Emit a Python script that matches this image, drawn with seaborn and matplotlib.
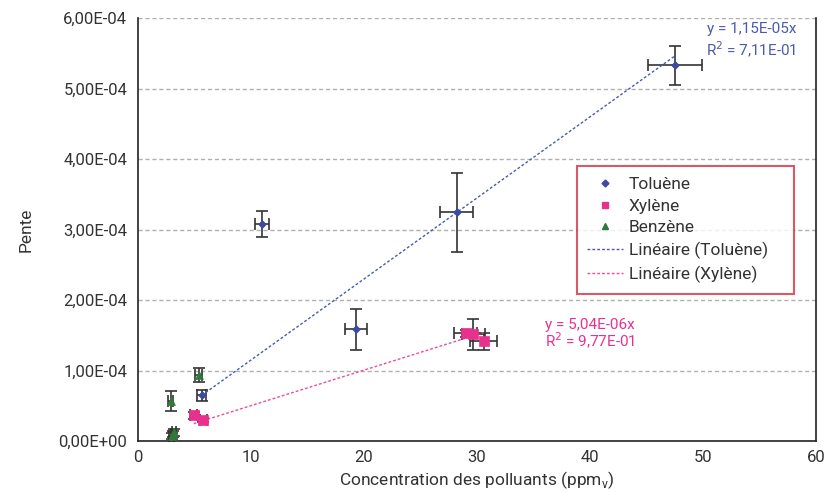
import numpy as np
import pandas as pd
import matplotlib
matplotlib.use("Agg")
import matplotlib.pyplot as plt
from matplotlib.ticker import FuncFormatter, MultipleLocator
from matplotlib.lines import Line2D
import seaborn as sns

# data
tol_x = [47.5, 28.2, 11.0, 19.3, 5.65]
tol_y = [5.33e-4, 3.25e-4, 3.08e-4, 1.59e-4, 0.65e-4]
tol_xerr = [2.4, 1.45, 0.6, 1.0, 0.4]
tol_yerr = [0.28e-4, 0.56e-4, 0.18e-4, 0.29e-4, 0.08e-4]

xyl_x = [29.0, 29.7, 30.6, 4.95, 5.8]
xyl_y = [1.53e-4, 1.52e-4, 1.42e-4, 0.37e-4, 0.30e-4]
xyl_xerr = [1.0, 1.0, 1.2, 0.3, 0.3]
xyl_yerr = [0.05e-4, 0.22e-4, 0.12e-4, 0.05e-4, 0.03e-4]

ben_x = [5.4, 2.9, 3.0, 3.2, 3.1]
ben_y = [0.94e-4, 0.57e-4, 0.07e-4, 0.13e-4, 0.10e-4]
ben_xerr = [0.3, 0.2, 0.2, 0.2, 0.2]
ben_yerr = [0.1e-4, 0.14e-4, 0.04e-4, 0.05e-4, 0.04e-4]

tol_slope, tol_r2 = 1.15e-5, 0.711
xyl_slope, xyl_r2 = 5.04e-6, 0.977

names = ["Toluène", "Xylène", "Benzène"]
colors = {"Toluène": "#3b4aa3", "Xylène": "#e8318f", "Benzène": "#2f7a3b"}
markers = {"Toluène": "D", "Xylène": "s", "Benzène": "^"}

df = pd.DataFrame({
    "x": tol_x + xyl_x + ben_x,
    "y": tol_y + xyl_y + ben_y,
    "xerr": tol_xerr + xyl_xerr + ben_xerr,
    "yerr": tol_yerr + xyl_yerr + ben_yerr,
    "polluant": ["Toluène"] * 5 + ["Xylène"] * 5 + ["Benzène"] * 5,
})

sns.set_theme(style="white")
plt.rcParams["font.family"] = ["Roboto", "DejaVu Sans"]

fig = plt.figure(figsize=(8.25, 4.93), dpi=100)
ax = fig.add_axes([0.167, 0.105, 0.822, 0.858])

for yv in np.arange(1e-4, 6.01e-4, 1e-4):
    ax.axhline(yv, color="#b0b0b0", lw=1, ls=(0, (3, 2)), zorder=0)

ax.errorbar(df["x"], df["y"], xerr=df["xerr"], yerr=df["yerr"], fmt="none",
            ecolor="#333333", elinewidth=1.2, capsize=4, capthick=1.2, zorder=2)

sizes = {"Toluène": 16, "Xylène": 50, "Benzène": 32}
for name in names:
    sub = df[df["polluant"] == name]
    sns.scatterplot(data=sub, x="x", y="y", color=colors[name], marker=markers[name],
                    s=sizes[name], edgecolor=colors[name], linewidth=0.5, ax=ax,
                    zorder=3, legend=False)

# linear trend lines through origin
tx = np.array([min(tol_x), max(tol_x)])
sns.lineplot(x=tx, y=tol_slope * tx, color="#4a5ab0", lw=1, ax=ax, zorder=2.5)
ax.lines[-1].set_linestyle((0, (2, 1.5)))
xx = np.array([min(xyl_x), max(xyl_x)])
sns.lineplot(x=xx, y=xyl_slope * xx, color="#ee4a9e", lw=1, ax=ax, zorder=2.5)
ax.lines[-1].set_linestyle((0, (2, 1.5)))

def fr(v, p=2):
    s = f"{v:.{p}E}".replace(".", ",")
    mant, ex = s.split("E")
    return f"{mant}E{ex[0]}{int(ex[1:]):02d}"

ax.text(58.3, 5.85e-4, f"y = {fr(tol_slope)}x", ha="right", va="center", color="#4a5ab0", fontsize=11)
ax.text(58.3, 5.55e-4, f"R$^2$ = {fr(tol_r2)}", ha="right", va="center", color="#4a5ab0", fontsize=11)
ax.text(44.0, 1.65e-4, f"y = {fr(xyl_slope)}x", ha="right", va="center", color="#e8318f", fontsize=11)
ax.text(44.0, 1.42e-4, f"R$^2$ = {fr(xyl_r2)}", ha="right", va="center", color="#e8318f", fontsize=11)

ax.set_xlim(0, 60)
ax.set_ylim(0, 6e-4)
ax.xaxis.set_major_locator(MultipleLocator(10))
ax.yaxis.set_major_locator(MultipleLocator(1e-4))
ax.yaxis.set_major_formatter(FuncFormatter(lambda v, p: fr(v) if v != 0 else "0,00E+00"))
ax.tick_params(axis="both", direction="out", length=4, width=1, colors="#222222",
               labelsize=12, labelcolor="#333333")
ax.tick_params(axis="x", direction="inout", length=6)
for side in ["left", "bottom", "right"]:
    ax.spines[side].set_color("#222222")
    ax.spines[side].set_linewidth(1.2)
ax.spines["top"].set_visible(False)

ax.set_xlabel(r"Concentration des polluants (ppm$_{\mathregular{v}}$)", fontsize=12.5, color="#333333", labelpad=3)
ax.set_ylabel("Pente", fontsize=12.5, color="#333333", labelpad=18)

handles = [
    Line2D([], [], ls="none", marker="D", color=colors["Toluène"], markersize=3.5),
    Line2D([], [], ls="none", marker="s", color=colors["Xylène"], markersize=5),
    Line2D([], [], ls="none", marker="^", color=colors["Benzène"], markersize=5),
    Line2D([], [], color="#4a5ab0", lw=1, ls=(0, (2, 1.5))),
    Line2D([], [], color="#ee4a9e", lw=1, ls=(0, (2, 1.5))),
]
labels = names + ["Linéaire (Toluène)", "Linéaire (Xylène)"]
leg = ax.legend(handles, labels, loc="upper left", bbox_to_anchor=(0.647, 0.357, 0.32, 0.293),
                mode="expand", borderaxespad=0, fontsize=12.5, frameon=True, fancybox=False,
                borderpad=0.6, labelspacing=0.38, handlelength=2.1, handletextpad=0.3)
leg.get_frame().set_edgecolor("#d03040")
leg.get_frame().set_linewidth(1.5)
for t in leg.get_texts():
    t.set_color("#333333")

fig.savefig("out.png", dpi=100)
